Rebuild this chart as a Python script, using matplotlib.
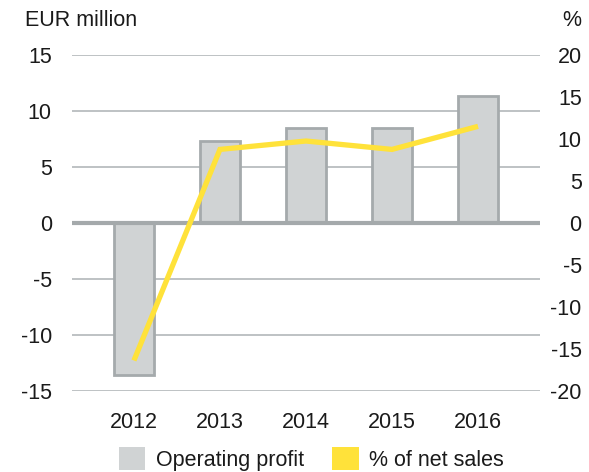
import matplotlib.pyplot as plt
from matplotlib.patches import Patch

plt.rcParams['font.family'] = ['Liberation Sans', 'DejaVu Sans']
plt.rcParams['axes.unicode_minus'] = False

years = ['2012', '2013', '2014', '2015', '2016']
operating_profit = [-13.6, 7.35, 8.45, 8.45, 11.35]
pct_net_sales = [-16.4, 8.75, 9.75, 8.75, 11.5]

bar_face = '#d0d3d4'
bar_edge = '#a5aaac'
grid_col = '#b3b8ba'
yellow = '#ffe23a'
txt = '#1a1a1a'
fs = 15.5

fig = plt.figure(figsize=(5.89, 4.72), dpi=100)
ax = fig.add_axes([0.1222, 0.1722, 0.7946, 0.7113])
ax2 = ax.twinx()

x = list(range(len(years)))

ax.set_ylim(-15, 15)
ax.set_yticks([-15, -10, -5, 0, 5, 10, 15])
for v in [-15, -10, -5, 5, 10, 15]:
    ax.axhline(v, color=grid_col, lw=1.2, zorder=0)

ax.bar(x, operating_profit, width=0.46, color=bar_face, edgecolor=bar_edge,
       linewidth=2, zorder=2)
ax.axhline(0, color='#a4a9ab', lw=3, zorder=3)

ax2.set_ylim(-20, 20)
ax2.set_yticks([-20, -15, -10, -5, 0, 5, 10, 15, 20])
ax2.plot(x, pct_net_sales, color=yellow, lw=3.8, solid_capstyle='butt',
         solid_joinstyle='miter', zorder=5)

ax.set_xlim(-0.72, 4.72)
ax.set_xticks(x)
ax.set_xticklabels(years)

for a in (ax, ax2):
    for s in a.spines.values():
        s.set_visible(False)
    a.tick_params(length=0, labelsize=fs, colors=txt)
ax.tick_params(axis='y', pad=14.5)
ax.tick_params(axis='x', pad=15)
# right labels are right-aligned near the figure edge
ax2.tick_params(axis='y', pad=30)
for lbl in ax2.get_yticklabels():
    lbl.set_horizontalalignment('right')
ax.set_axisbelow(True)
ax2.set_zorder(ax.get_zorder() + 1)
ax2.patch.set_visible(False)

fig.text(0.043, 0.956, 'EUR million', fontsize=fs, color=txt, va='center')
fig.text(0.955, 0.956, '%', fontsize=fs, color=txt, va='center')

handles = [Patch(facecolor=bar_face, edgecolor='none'),
           Patch(facecolor=yellow, edgecolor='none')]
fig.legend(handles, ['Operating profit', '% of net sales'], loc='center',
           bbox_to_anchor=(0.528, 0.028), ncol=2, frameon=False, fontsize=fs,
           handlelength=1.25, handleheight=1.25, handletextpad=0.47,
           columnspacing=1.3, labelcolor=txt, borderpad=0)

fig.savefig('out.png', dpi=100)
